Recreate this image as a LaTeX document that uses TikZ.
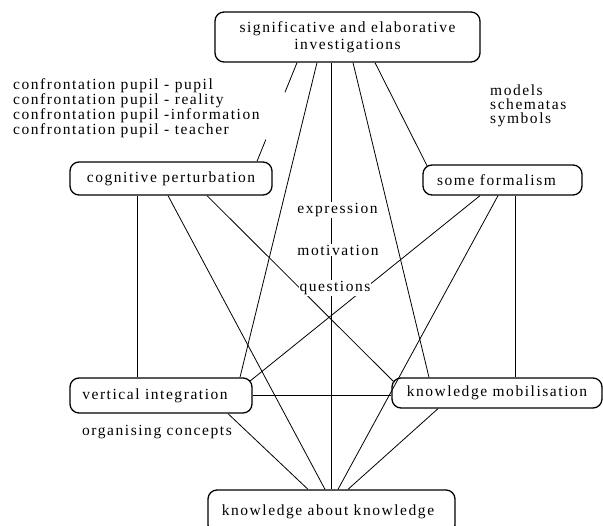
\documentclass[tikz,border=0pt]{standalone}
\usepackage{fontspec}
\setmainfont{Liberation Serif}[LetterSpace=10]
\usetikzlibrary{calc}
\begin{document}
\begin{tikzpicture}[x=1pt,y=-1pt,
  box/.style={draw, line width=1.3pt, rounded corners=9pt, inner sep=0pt, align=center,
    font=\fontsize{15.5}{17}\selectfont},
  con/.style={line width=0.8pt},
  lbl/.style={inner sep=1pt, align=left, font=\fontsize{15.5}{12.7}\selectfont},
  lbltwo/.style={inner sep=1pt, align=left, font=\fontsize{15.5}{14}\selectfont},
  mid/.style={fill=white, inner sep=1pt, font=\fontsize{15.5}{17}\selectfont}
]
\useasboundingbox (0,0) rectangle (603,526);
\clip (0,0) rectangle (603,526);

% boxes
\node[box, minimum width=265pt, minimum height=50pt] (T) at (347.5,37) {significative and elaborative\\investigations};
\node[box, minimum width=202pt, minimum height=33pt] (CP) at (171,178.5) {cognitive perturbation};
\node[box, minimum width=159pt, minimum height=30pt] (SF) at (502.5,180) {some formalism\hspace*{12pt}};
\node[box, minimum width=182pt, minimum height=35pt] (VI) at (161,395.5) {vertical integration\hspace*{12pt}};
\node[box, minimum width=210pt, minimum height=30pt] (KM) at (497,393) {knowledge mobilisation};
\node[box, minimum width=247pt, minimum height=44pt] (KK) at (331.5,512) {knowledge about knowledge\hspace*{7pt}};

% broken connector from T to CP (interrupted by the annotation)
\draw[con] ([xshift=-50.5pt]T.south) -- ($([xshift=-50.5pt]T.south)!0.3!([xshift=86pt]CP.north)$);
\draw[con] ($([xshift=-50.5pt]T.south)!0.78!([xshift=86pt]CP.north)$) -- ([xshift=86pt]CP.north);

% connectors
\draw[con] ([xshift=-30.5pt]T.south) -- ([xshift=79pt]VI.north);
\draw[con] ([xshift=-16pt]T.south) -- (KK.north);
\draw[con] ([xshift=5.5pt]T.south) -- ([xshift=-68pt]KM.north);
\draw[con] ([xshift=27.5pt]T.south) -- ([xshift=5pt,yshift=-2pt]SF.north west);
\draw[con] ([xshift=-34pt]CP.south) -- ([xshift=-24pt]VI.north);
\draw[con] ([xshift=-3pt]CP.south) -- ([xshift=-6.5pt]KK.north);
\draw[con] ([xshift=36pt]CP.south) -- ([xshift=2pt,yshift=-4pt]KM.north west);
\draw[con] ([xshift=-22.5pt]SF.south) -- ([xshift=-3pt,yshift=-4pt]VI.north east);
\draw[con] ([xshift=-4.5pt]SF.south) -- ([xshift=6.5pt]KK.north);
\draw[con] ([xshift=12.5pt]SF.south) -- ([xshift=18pt]KM.north);
\draw[con] (VI.east) -- (VI.east -| KM.west);
\draw[con] ([xshift=67pt]VI.south) -- ([xshift=-23.5pt]KK.north);
\draw[con] ([xshift=-59pt]KM.south) -- ([xshift=16.5pt]KK.north);

% labels
\node[lbl, anchor=north west] (conf) at (12,77) {confrontation pupil - pupil\\confrontation pupil - reality\\confrontation pupil -information\\confrontation pupil - teacher};
\node[lbltwo, anchor=north west] (mss) at (489,84) {models\\schematas\\symbols};
\node[mid] (ex) at (337.5,210) {expression};
\node[mid] (mo) at (338,250) {motivation};
\node[mid] (qu) at (335,288) {questions};
\node[mid] (oc) at (157,432) {organising concepts};
\end{tikzpicture}
\end{document}
